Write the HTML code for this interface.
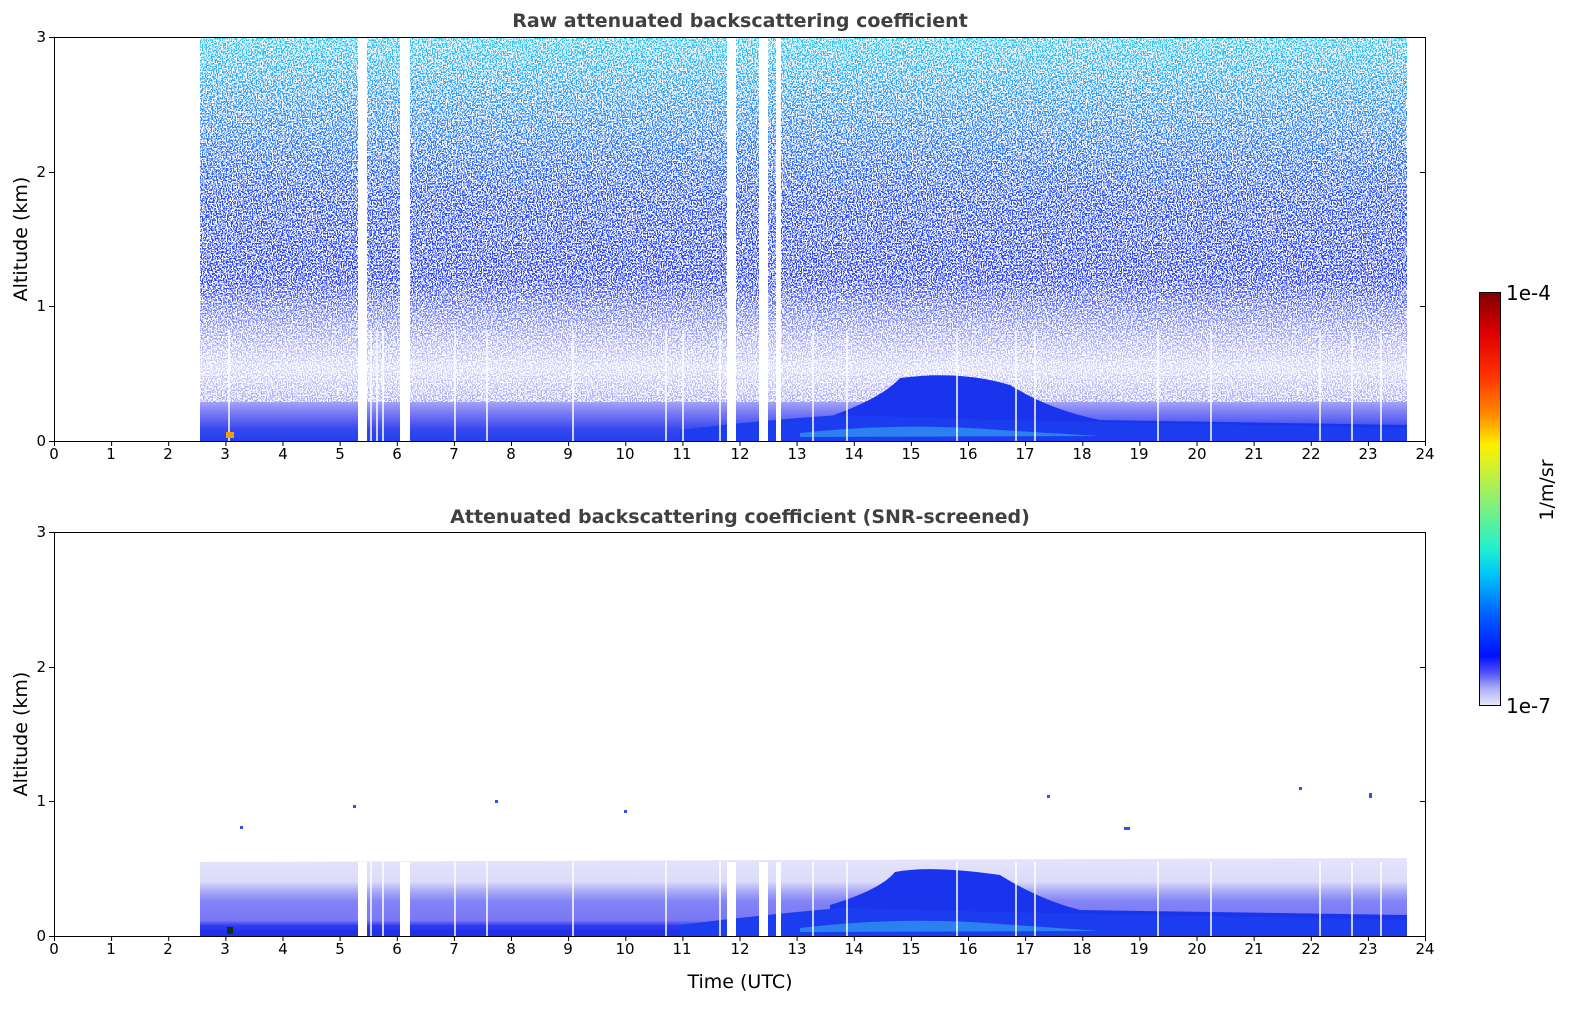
<!DOCTYPE html>
<html><head><meta charset="utf-8"><style>html,body{margin:0;padding:0;background:#fff;overflow:hidden;width:1595px;height:1020px}svg{display:block;width:1595px;height:1020px}text{font-family:"DejaVu Sans","Liberation Sans",sans-serif;fill:#000}</style></head><body>
<svg width="1595" height="1020" viewBox="0 0 1595 1020" xmlns="http://www.w3.org/2000/svg">
<defs>
<filter id="nz" x="0" y="0" width="100%" height="100%">
<feTurbulence type="fractalNoise" baseFrequency="0.8 0.6" numOctaves="1" seed="4"/>
<feColorMatrix type="matrix" values="0 0 0 0 1 0 0 0 0 1 0 0 0 0 1 3 0 0 0 -1.0"/>
<feComponentTransfer><feFuncA type="discrete" tableValues="0 0 1 1"/></feComponentTransfer>
</filter>
<linearGradient id="top" x1="0" y1="0" x2="0" y2="1">
<stop offset="0" stop-color="#30c8f0"/><stop offset="0.2" stop-color="#3088f0"/>
<stop offset="0.4" stop-color="#2850f2"/><stop offset="0.6" stop-color="#2840f5"/>
<stop offset="0.72" stop-color="#9098f6"/><stop offset="0.82" stop-color="#d4d4fa"/>
<stop offset="0.9" stop-color="#a8a8f6"/><stop offset="0.93" stop-color="#7a7cf5"/>
<stop offset="0.97" stop-color="#3a48f0"/><stop offset="1" stop-color="#2040f0"/>
</linearGradient>
<linearGradient id="bot" x1="0" y1="0" x2="0" y2="1">
<stop offset="0" stop-color="#e4e4fb"/><stop offset="0.3" stop-color="#dcdcfa"/>
<stop offset="0.4" stop-color="#b4b4f8"/><stop offset="0.55" stop-color="#8484f6"/>
<stop offset="0.8" stop-color="#7878f4"/><stop offset="0.87" stop-color="#3038f0"/>
<stop offset="1" stop-color="#2030f0"/>
</linearGradient>
<linearGradient id="cb" x1="0" y1="0" x2="0" y2="1">
<stop offset="0" stop-color="#7f0000"/><stop offset="0.1" stop-color="#e00000"/>
<stop offset="0.2" stop-color="#ff3000"/><stop offset="0.3" stop-color="#ff9000"/>
<stop offset="0.37" stop-color="#fff000"/><stop offset="0.5" stop-color="#90f070"/>
<stop offset="0.62" stop-color="#20f0d0"/><stop offset="0.68" stop-color="#00c8f8"/>
<stop offset="0.78" stop-color="#0060ff"/><stop offset="0.88" stop-color="#0010ff"/>
<stop offset="0.92" stop-color="#5050f8"/><stop offset="0.96" stop-color="#b0b0f8"/>
<stop offset="1" stop-color="#e8e8fc"/>
</linearGradient>
</defs>

<!-- TOP PLOT -->
<text x="740" y="27" text-anchor="middle" font-size="19" font-weight="bold" style="fill:#404040">Raw attenuated backscattering coefficient</text>
<rect x="200" y="37" width="1207" height="404" fill="url(#top)"/>
<rect x="200" y="37" width="1207" height="365" fill="#fff" filter="url(#nz)"/>
<path d="M820 420 Q880 400 900 378 Q960 370 1010 385 Q1050 410 1100 420 L1407 425 L1407 441 L820 441Z" fill="#1a34ee"/>
<path d="M680 430 Q760 420 840 415 L1000 420 L1407 428 L1407 441 L680 441Z" fill="#1c3cf0"/>
<path d="M800 433 Q900 422 1000 430 L1100 436 L800 437Z" fill="#2c80f0"/>
<g fill="#fff">
<rect x="358" y="37" width="9" height="404"/><rect x="400" y="37" width="10" height="404"/>
<rect x="727" y="37" width="9" height="404"/><rect x="759" y="37" width="9" height="404"/><rect x="776" y="37" width="5" height="404"/>
</g>
<g stroke="#fff" stroke-width="1.5">
<line x1="229" y1="330" x2="229" y2="441"/><line x1="371" y1="330" x2="371" y2="441"/><line x1="377" y1="330" x2="377" y2="441"/><line x1="383" y1="330" x2="383" y2="441"/><line x1="455" y1="330" x2="455" y2="441"/><line x1="487" y1="330" x2="487" y2="441"/><line x1="573" y1="330" x2="573" y2="441"/><line x1="666" y1="330" x2="666" y2="441"/><line x1="683" y1="330" x2="683" y2="441"/><line x1="720" y1="330" x2="720" y2="441"/><line x1="813" y1="330" x2="813" y2="441"/><line x1="847" y1="330" x2="847" y2="441"/><line x1="957" y1="330" x2="957" y2="441"/><line x1="1016" y1="330" x2="1016" y2="441"/><line x1="1035" y1="330" x2="1035" y2="441"/><line x1="1158" y1="330" x2="1158" y2="441"/><line x1="1211" y1="330" x2="1211" y2="441"/><line x1="1320" y1="330" x2="1320" y2="441"/><line x1="1352" y1="330" x2="1352" y2="441"/><line x1="1381" y1="330" x2="1381" y2="441"/>
</g>
<rect x="226" y="432" width="8" height="6" fill="#f0a000"/>
<rect x="54.5" y="37.5" width="1371" height="404" fill="none" stroke="#000" stroke-width="1"/>

<!-- BOTTOM PLOT -->
<text x="740" y="523" text-anchor="middle" font-size="19" font-weight="bold" style="fill:#404040">Attenuated backscattering coefficient (SNR-screened)</text>
<path d="M200 862 L1407 858 L1407 936 L200 936Z" fill="url(#bot)"/>
<path d="M830 905 Q880 890 895 872 Q930 865 1000 875 Q1040 900 1080 910 L1407 915 L1407 936 L830 936Z" fill="#1a34ee"/>
<path d="M680 925 Q760 915 840 908 L1000 912 L1407 920 L1407 936 L680 936Z" fill="#1c3cf0"/>
<path d="M800 928 Q900 916 1000 924 L1100 931 L800 932Z" fill="#2c80f0"/>
<rect x="200" y="930" width="480" height="5" fill="#2030e8"/>
<g fill="#fff">
<rect x="358" y="862" width="9" height="74"/><rect x="400" y="862" width="10" height="74"/>
<rect x="727" y="862" width="9" height="74"/><rect x="759" y="862" width="9" height="74"/><rect x="776" y="862" width="5" height="74"/>
</g>
<g stroke="#fff" stroke-width="1.5">
<line x1="371" y1="862" x2="371" y2="936"/><line x1="383" y1="862" x2="383" y2="936"/><line x1="455" y1="862" x2="455" y2="936"/><line x1="487" y1="862" x2="487" y2="936"/><line x1="573" y1="862" x2="573" y2="936"/><line x1="666" y1="862" x2="666" y2="936"/><line x1="720" y1="862" x2="720" y2="936"/><line x1="813" y1="862" x2="813" y2="936"/><line x1="847" y1="862" x2="847" y2="936"/><line x1="957" y1="862" x2="957" y2="936"/><line x1="1016" y1="862" x2="1016" y2="936"/><line x1="1035" y1="862" x2="1035" y2="936"/><line x1="1158" y1="862" x2="1158" y2="936"/><line x1="1211" y1="862" x2="1211" y2="936"/><line x1="1320" y1="862" x2="1320" y2="936"/><line x1="1352" y1="862" x2="1352" y2="936"/><line x1="1381" y1="862" x2="1381" y2="936"/>
</g>
<rect x="227" y="927" width="6" height="7" fill="#103010"/>
<g fill="#3050f0">
<rect x="353" y="805" width="3" height="3"/><rect x="240" y="826" width="3" height="3"/><rect x="624" y="810" width="3" height="3"/><rect x="1369" y="793" width="3" height="5"/><rect x="1299" y="787" width="3" height="3"/><rect x="1124" y="827" width="6" height="3"/><rect x="495" y="800" width="3" height="3"/><rect x="1047" y="795" width="3" height="3"/>
</g>
<rect x="54.5" y="532.5" width="1371" height="404" fill="none" stroke="#000" stroke-width="1"/>

<!-- Axes ticks/labels -->
<g font-size="15" text-anchor="middle">
<text x="54" y="459">0</text><text x="111" y="459">1</text><text x="168" y="459">2</text><text x="225" y="459">3</text><text x="283" y="459">4</text><text x="340" y="459">5</text><text x="397" y="459">6</text><text x="454" y="459">7</text><text x="511" y="459">8</text><text x="568" y="459">9</text><text x="625" y="459">10</text><text x="682" y="459">11</text><text x="740" y="459">12</text><text x="797" y="459">13</text><text x="854" y="459">14</text><text x="911" y="459">15</text><text x="968" y="459">16</text><text x="1025" y="459">17</text><text x="1082" y="459">18</text><text x="1139" y="459">19</text><text x="1197" y="459">20</text><text x="1254" y="459">21</text><text x="1311" y="459">22</text><text x="1368" y="459">23</text><text x="1425" y="459">24</text>
</g>
<g font-size="15" text-anchor="middle" transform="translate(0,495)">
<text x="54" y="459">0</text><text x="111" y="459">1</text><text x="168" y="459">2</text><text x="225" y="459">3</text><text x="283" y="459">4</text><text x="340" y="459">5</text><text x="397" y="459">6</text><text x="454" y="459">7</text><text x="511" y="459">8</text><text x="568" y="459">9</text><text x="625" y="459">10</text><text x="682" y="459">11</text><text x="740" y="459">12</text><text x="797" y="459">13</text><text x="854" y="459">14</text><text x="911" y="459">15</text><text x="968" y="459">16</text><text x="1025" y="459">17</text><text x="1082" y="459">18</text><text x="1139" y="459">19</text><text x="1197" y="459">20</text><text x="1254" y="459">21</text><text x="1311" y="459">22</text><text x="1368" y="459">23</text><text x="1425" y="459">24</text>
</g>
<g stroke="#000" stroke-width="1">
<path d="M54.5 441v5M111.6 441v5M168.7 441v5M225.9 441v5M283 441v5M340.1 441v5M397.3 441v5M454.4 441v5M511.5 441v5M568.6 441v5M625.8 441v5M682.9 441v5M740 441v5M797.1 441v5M854.3 441v5M911.4 441v5M968.5 441v5M1025.6 441v5M1082.8 441v5M1139.9 441v5M1197 441v5M1254.1 441v5M1311.3 441v5M1368.4 441v5M1425.5 441v5"/>
<path d="M54.5 936v5M111.6 936v5M168.7 936v5M225.9 936v5M283 936v5M340.1 936v5M397.3 936v5M454.4 936v5M511.5 936v5M568.6 936v5M625.8 936v5M682.9 936v5M740 936v5M797.1 936v5M854.3 936v5M911.4 936v5M968.5 936v5M1025.6 936v5M1082.8 936v5M1139.9 936v5M1197 936v5M1254.1 936v5M1311.3 936v5M1368.4 936v5M1425.5 936v5"/>
<path d="M49 441.5h5M49 306.5h5M49 172.5h5M49 37.5h5M1420 306.5h5M1420 172.5h5"/>
<path d="M49 936.5h5M49 801.5h5M49 667.5h5M49 532.5h5M1420 801.5h5M1420 667.5h5"/>
</g>
<g font-size="15" text-anchor="end">
<text x="46" y="446">0</text><text x="46" y="311">1</text><text x="46" y="177">2</text><text x="46" y="42">3</text>
<text x="46" y="941">0</text><text x="46" y="806">1</text><text x="46" y="672">2</text><text x="46" y="537">3</text>
</g>
<text transform="translate(27,239) rotate(-90)" text-anchor="middle" font-size="19">Altitude (km)</text>
<text transform="translate(27,734) rotate(-90)" text-anchor="middle" font-size="19">Altitude (km)</text>
<text x="740" y="988" text-anchor="middle" font-size="19">Time (UTC)</text>

<!-- colorbar -->
<rect x="1479.5" y="292.5" width="21" height="413" fill="url(#cb)" stroke="#000" stroke-width="1"/>
<text x="1506" y="300" font-size="20">1e-4</text>
<text x="1506" y="713" font-size="20">1e-7</text>
<text transform="translate(1553,490) rotate(-90)" text-anchor="middle" font-size="19">1/m/sr</text>
</svg>
</body></html>
